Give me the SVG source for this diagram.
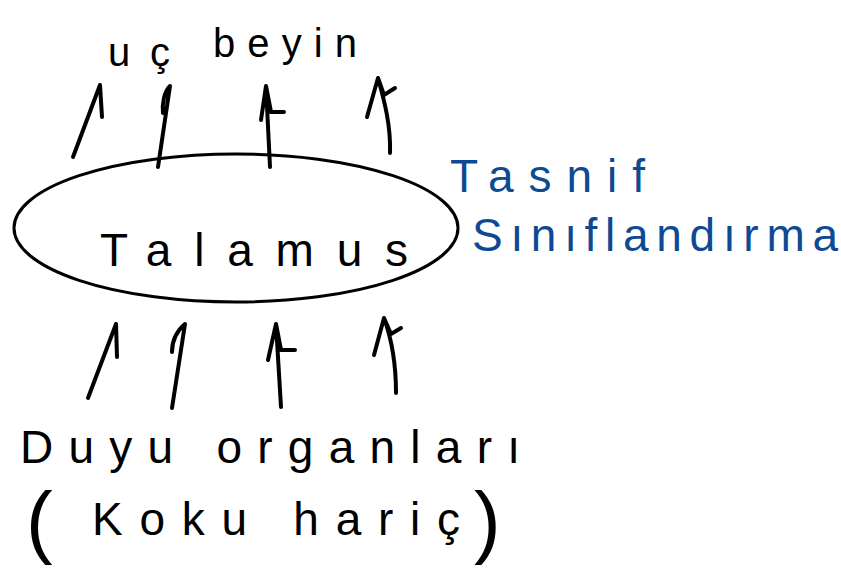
<svg xmlns="http://www.w3.org/2000/svg" width="841" height="578" viewBox="0 0 841 578">
  <style>
    .ink { font-family: "Liberation Sans", "DejaVu Sans", sans-serif; fill: #000; }
    .blue { font-family: "Liberation Sans", "DejaVu Sans", sans-serif; fill: #0e4a93; }
    .arrow { fill: none; stroke: #000; stroke-width: 4; stroke-linecap: round; stroke-linejoin: round; }
  </style>
  <rect width="841" height="578" fill="#fff"/>

  <!-- target: end brain -->
  <g id="uc-beyin">
    <text class="ink" font-size="40"><tspan x="108" y="66" textLength="62" lengthAdjust="spacing">uç</tspan><tspan x="213" y="57" textLength="144" lengthAdjust="spacing">beyin</tspan></text>
  </g>

  <!-- thalamus node -->
  <g id="talamus">
    <ellipse cx="236" cy="228" rx="222" ry="74" fill="none" stroke="#000" stroke-width="3"/>
    <text class="ink" x="100" y="266" font-size="46" textLength="308" lengthAdjust="spacing">Talamus</text>
  </g>

  <!-- side note -->
  <g id="tasnif">
    <text class="blue" x="450" y="192" font-size="46" textLength="195" lengthAdjust="spacing">Tasnif</text>
    <text class="blue" x="472" y="251" font-size="46" textLength="366" lengthAdjust="spacing">Sınıflandırma</text>
  </g>

  <!-- sources: sense organs -->
  <g id="duyu-organlari">
    <text class="ink" x="20" y="463" font-size="46" textLength="500" lengthAdjust="spacing">Duyu organları</text>
    <text class="ink" font-size="46"><tspan x="26" y="548" font-size="80">(</tspan><tspan x="92" y="535" textLength="368" lengthAdjust="spacing">Koku hariç</tspan><tspan x="474" y="548" font-size="80">)</tspan></text>
  </g>

  <!-- connectors -->
  <g id="connectors">
    <!-- thalamus to end brain -->
    <path class="arrow" d="M73 157 L100 85 M100 85 L102 117"/>
    <path class="arrow" d="M158 167 L170 86 M170 86 C164 92 162 104 163 113"/>
    <path class="arrow" d="M270 167 L266 86 M266 86 L261 120 M266 86 L271 112 L284 112"/>
    <path class="arrow" d="M390 153 C391 125 384 100 378 78 M378 78 L367 117 M378 78 L384 95 L395 88"/>
    <!-- sense organs to thalamus -->
    <path class="arrow" d="M88 398 L116 324 M116 324 L117 357"/>
    <path class="arrow" d="M172 408 L185 324 M185 324 C178 330 172 340 172 352"/>
    <path class="arrow" d="M281 407 L276 324 M276 324 L268 360 M276 324 L281 350 L295 350"/>
    <path class="arrow" d="M396 393 C396 365 392 340 384 318 M384 318 L374 355 M384 318 L391 334 L401 328"/>
  </g>
</svg>
